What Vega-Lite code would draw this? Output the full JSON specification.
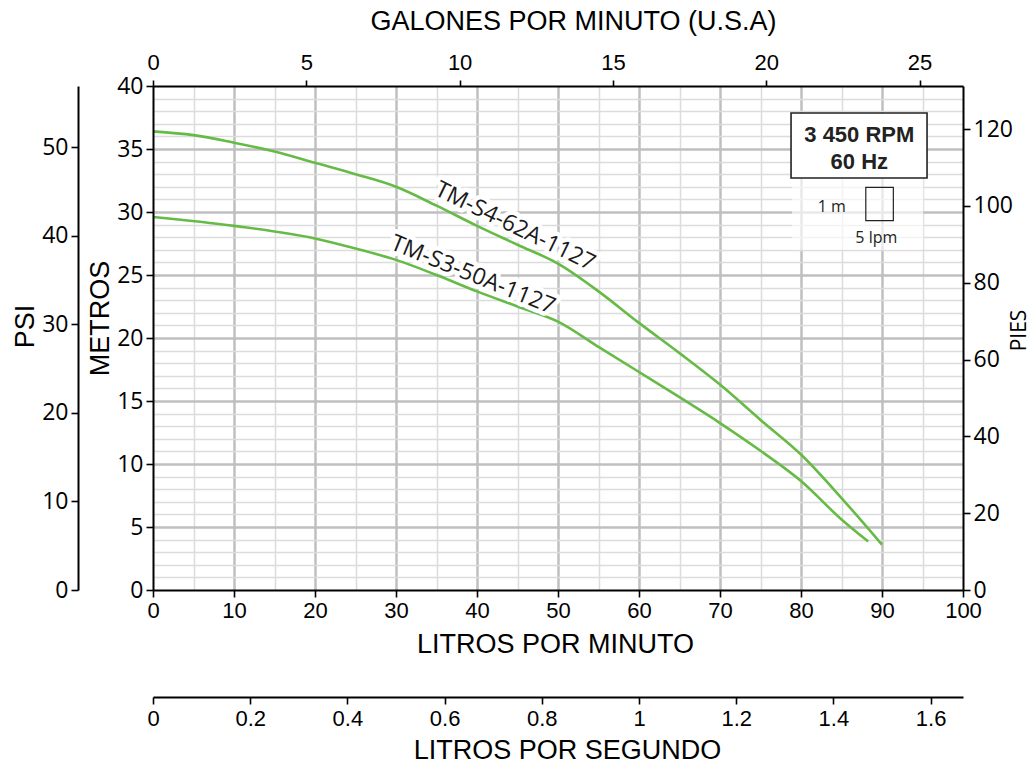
{
  "$schema": "https://vega.github.io/schema/vega-lite/v6.json",
  "width": 810,
  "height": 504,
  "autosize": "none",
  "padding": {"left": 153, "top": 86, "right": 72, "bottom": 179},
  "background": "white",
  "config": {
    "view": {"stroke": null},
    "axis": {"labelOverlap": false, "labelFlush": false, "labelBound": false, "labelColor": "black", "titleColor": "black", "titleFontWeight": "normal"}
  },
  "datasets": {
    "curves": [
      {"model": "TM-S4-62A-1127", "lpm": 0, "m": 36.4},
      {"model": "TM-S4-62A-1127", "lpm": 5, "m": 36.1},
      {"model": "TM-S4-62A-1127", "lpm": 10, "m": 35.5},
      {"model": "TM-S4-62A-1127", "lpm": 15, "m": 34.8},
      {"model": "TM-S4-62A-1127", "lpm": 20, "m": 33.9},
      {"model": "TM-S4-62A-1127", "lpm": 25, "m": 33.0},
      {"model": "TM-S4-62A-1127", "lpm": 30, "m": 32.0},
      {"model": "TM-S4-62A-1127", "lpm": 35, "m": 30.5},
      {"model": "TM-S4-62A-1127", "lpm": 40, "m": 28.9},
      {"model": "TM-S4-62A-1127", "lpm": 45, "m": 27.4},
      {"model": "TM-S4-62A-1127", "lpm": 50, "m": 25.9},
      {"model": "TM-S4-62A-1127", "lpm": 55, "m": 23.7},
      {"model": "TM-S4-62A-1127", "lpm": 60, "m": 21.2},
      {"model": "TM-S4-62A-1127", "lpm": 65, "m": 18.8},
      {"model": "TM-S4-62A-1127", "lpm": 70, "m": 16.3},
      {"model": "TM-S4-62A-1127", "lpm": 75, "m": 13.5},
      {"model": "TM-S4-62A-1127", "lpm": 80, "m": 10.75},
      {"model": "TM-S4-62A-1127", "lpm": 85, "m": 7.3},
      {"model": "TM-S4-62A-1127", "lpm": 90, "m": 3.6},
      {"model": "TM-S3-50A-1127", "lpm": 0, "m": 29.6},
      {"model": "TM-S3-50A-1127", "lpm": 10, "m": 28.9},
      {"model": "TM-S3-50A-1127", "lpm": 20, "m": 27.9},
      {"model": "TM-S3-50A-1127", "lpm": 25, "m": 27.1},
      {"model": "TM-S3-50A-1127", "lpm": 30, "m": 26.2},
      {"model": "TM-S3-50A-1127", "lpm": 35, "m": 25.0},
      {"model": "TM-S3-50A-1127", "lpm": 40, "m": 23.7},
      {"model": "TM-S3-50A-1127", "lpm": 45, "m": 22.5},
      {"model": "TM-S3-50A-1127", "lpm": 50, "m": 21.3},
      {"model": "TM-S3-50A-1127", "lpm": 55, "m": 19.3},
      {"model": "TM-S3-50A-1127", "lpm": 60, "m": 17.3},
      {"model": "TM-S3-50A-1127", "lpm": 65, "m": 15.3},
      {"model": "TM-S3-50A-1127", "lpm": 70, "m": 13.25},
      {"model": "TM-S3-50A-1127", "lpm": 75, "m": 11.05},
      {"model": "TM-S3-50A-1127", "lpm": 80, "m": 8.65},
      {"model": "TM-S3-50A-1127", "lpm": 85, "m": 5.6},
      {"model": "TM-S3-50A-1127", "lpm": 88.3, "m": 3.85}
    ],
    "boxes": [
      {"part": "veil", "lpm": 78.9, "lpm2": 95.1, "m": 32.7, "m2": 27.0},
      {"part": "frame", "lpm": 78.77, "lpm2": 95.56, "m": 37.86, "m2": 32.7},
      {"part": "key", "lpm": 88.0, "lpm2": 91.4, "m": 31.96, "m2": 29.31}
    ],
    "notes": [
      {"group": "rpm", "label": "3 450 RPM", "lpm": 87.2, "m": 36.1},
      {"group": "rpm", "label": "60 Hz", "lpm": 87.2, "m": 34.0},
      {"group": "key", "label": "1 m", "lpm": 83.8, "m": 30.4},
      {"group": "key", "label": "5 lpm", "lpm": 89.3, "m": 27.9},
      {"group": "s4", "label": "TM-S4-62A-1127", "lpm": 44.7, "m": 28.85},
      {"group": "s3", "label": "TM-S3-50A-1127", "lpm": 39.5, "m": 25.0}
    ]
  },
  "resolve": {"axis": {"x": "independent", "y": "independent"}},
  "layer": [
    {
      "description": "minor grid: every 5 lpm and every 1 m",
      "data": {"name": "curves"},
      "mark": {"type": "point", "opacity": 0},
      "encoding": {
        "x": {"field": "lpm", "type": "quantitative", "scale": {"domain": [0, 100], "nice": false, "zero": false},
          "axis": {"orient": "bottom", "values": [5, 15, 25, 35, 45, 55, 65, 75, 85, 95], "grid": true, "gridColor": "#dcdcdc", "gridWidth": 1.5, "domain": false, "ticks": false, "labels": false, "title": null, "zindex": 0}},
        "y": {"field": "m", "type": "quantitative", "scale": {"domain": [0, 40], "nice": false, "zero": true},
          "axis": {"orient": "left", "values": [1, 2, 3, 4, 6, 7, 8, 9, 11, 12, 13, 14, 16, 17, 18, 19, 21, 22, 23, 24, 26, 27, 28, 29, 31, 32, 33, 34, 36, 37, 38, 39], "grid": true, "gridColor": "#dcdcdc", "gridWidth": 1.5, "domain": false, "ticks": false, "labels": false, "title": null, "zindex": 0}}
      }
    },
    {
      "description": "major grid: every 10 lpm and every 5 m",
      "data": {"name": "curves"},
      "mark": {"type": "point", "opacity": 0},
      "encoding": {
        "x": {"field": "lpm", "type": "quantitative", "scale": {"domain": [0, 100], "nice": false, "zero": false},
          "axis": {"orient": "bottom", "values": [10, 20, 30, 40, 50, 60, 70, 80, 90], "grid": true, "gridColor": "#bfbfbf", "gridWidth": 2.5, "domain": false, "ticks": false, "labels": false, "title": null, "zindex": 0}},
        "y": {"field": "m", "type": "quantitative", "scale": {"domain": [0, 40], "nice": false, "zero": true},
          "axis": {"orient": "left", "values": [5, 10, 15, 20, 25, 30, 35], "grid": true, "gridColor": "#bfbfbf", "gridWidth": 2.5, "domain": false, "ticks": false, "labels": false, "title": null, "zindex": 0}}
      }
    },
    {
      "description": "pump curves with the litres-per-minute and metres axes",
      "data": {"name": "curves"},
      "mark": {"type": "line", "color": "#66bb46", "strokeWidth": 2.6, "interpolate": "monotone"},
      "encoding": {
        "detail": {"field": "model"},
        "x": {"field": "lpm", "type": "quantitative", "scale": {"domain": [0, 100], "nice": false, "zero": false},
          "axis": {"orient": "bottom", "values": [0, 10, 20, 30, 40, 50, 60, 70, 80, 90, 100], "grid": false, "domainColor": "black", "domainWidth": 2, "tickColor": "black", "tickWidth": 1.6, "tickSize": 7, "labelFont": "Liberation Sans", "labelFontSize": 22, "labelPadding": 3, "title": "LITROS POR MINUTO", "titleFont": "Liberation Sans", "titleFontSize": 27, "titlePadding": 10, "titleX": 402, "zindex": 1}},
        "y": {"field": "m", "type": "quantitative", "scale": {"domain": [0, 40], "nice": false, "zero": true},
          "axis": {"orient": "left", "values": [0, 5, 10, 15, 20, 25, 30, 35, 40], "grid": false, "domainColor": "black", "domainWidth": 2, "tickColor": "black", "tickWidth": 1.6, "tickSize": 7, "labelFont": "Open Sans", "labelFontSize": 23, "labelPadding": 3, "title": "METROS", "titleFont": "Liberation Sans", "titleFontSize": 27, "titlePadding": 2, "titleY": 232, "zindex": 1}}
      }
    },
    {
      "description": "US gallons per minute on top, feet on the right",
      "data": {"name": "curves"},
      "mark": {"type": "point", "opacity": 0},
      "encoding": {
        "x": {"field": "lpm", "type": "quantitative", "scale": {"domain": [0, 100], "nice": false, "zero": false},
          "axis": {"orient": "top", "values": [0, 18.92705, 37.8541, 56.78115, 75.7082, 94.63525], "labelExpr": "'' + round(datum.value / 3.78541)", "grid": false, "domainColor": "black", "domainWidth": 2, "tickColor": "black", "tickWidth": 1.6, "tickSize": 6, "labelFont": "Liberation Sans", "labelFontSize": 22, "labelPadding": 6, "title": "GALONES POR MINUTO (U.S.A)", "titleFont": "Liberation Sans", "titleFontSize": 27, "titlePadding": 16, "titleX": 420, "zindex": 1}},
        "y": {"field": "m", "type": "quantitative", "scale": {"domain": [0, 40], "nice": false, "zero": true},
          "axis": {"orient": "right", "values": [0, 6.096, 12.192, 18.288, 24.384, 30.48, 36.576], "labelExpr": "'' + round(datum.value * 3.28084)", "grid": false, "domainColor": "black", "domainWidth": 2, "tickColor": "black", "tickWidth": 1.6, "tickSize": 7, "labelFont": "Open Sans", "labelFontSize": 23, "labelPadding": 3, "title": "PIES", "titleFont": "Open Sans", "titleFontSize": 21, "titleAngle": 270, "titleBaseline": "top", "titlePadding": -4, "titleY": 244, "zindex": 1}}
      }
    },
    {
      "description": "litres per second below, psi on the far left",
      "data": {"name": "curves"},
      "mark": {"type": "point", "opacity": 0},
      "encoding": {
        "x": {"field": "lpm", "type": "quantitative", "scale": {"domain": [0, 100], "nice": false, "zero": false},
          "axis": {"orient": "bottom", "offset": 107, "values": [0, 12, 24, 36, 48, 60, 72, 84, 96], "labelExpr": "format(datum.value / 60, '.1~f')", "grid": false, "domainColor": "black", "domainWidth": 2, "tickColor": "black", "tickWidth": 1.6, "tickSize": 7, "labelFont": "Liberation Sans", "labelFontSize": 22, "labelPadding": 4, "title": "LITROS POR SEGUNDO", "titleFont": "Liberation Sans", "titleFontSize": 27, "titlePadding": 8, "titleX": 414, "zindex": 1}},
        "y": {"field": "m", "type": "quantitative", "scale": {"domain": [0, 40], "nice": false, "zero": true},
          "axis": {"orient": "left", "offset": 75, "values": [0, 7.0307, 14.0614, 21.0921, 28.1228, 35.1535], "labelExpr": "'' + round(datum.value / 0.70307)", "grid": false, "domainColor": "black", "domainWidth": 2, "tickColor": "black", "tickWidth": 1.6, "tickSize": 7, "labelFont": "Open Sans", "labelFontSize": 23, "labelPadding": 3, "title": "PSI", "titleFont": "Liberation Sans", "titleFontSize": 27, "titlePadding": 2, "titleY": 240, "zindex": 1}}
      }
    },
    {
      "data": {"name": "boxes"},
      "transform": [{"filter": "datum.part === 'veil'"}],
      "mark": {"type": "rect", "fill": "white", "fillOpacity": 0.65},
      "encoding": {
        "x": {"field": "lpm", "type": "quantitative", "scale": {"domain": [0, 100], "nice": false, "zero": false}, "axis": null},
        "x2": {"field": "lpm2"},
        "y": {"field": "m", "type": "quantitative", "scale": {"domain": [0, 40], "nice": false, "zero": true}, "axis": null},
        "y2": {"field": "m2"}
      }
    },
    {
      "data": {"name": "boxes"},
      "transform": [{"filter": "datum.part === 'frame'"}],
      "mark": {"type": "rect", "fill": "white", "stroke": "#222222", "strokeWidth": 1.6},
      "encoding": {
        "x": {"field": "lpm", "type": "quantitative", "scale": {"domain": [0, 100], "nice": false, "zero": false}, "axis": null},
        "x2": {"field": "lpm2"},
        "y": {"field": "m", "type": "quantitative", "scale": {"domain": [0, 40], "nice": false, "zero": true}, "axis": null},
        "y2": {"field": "m2"}
      }
    },
    {
      "data": {"name": "boxes"},
      "transform": [{"filter": "datum.part === 'key'"}],
      "mark": {"type": "rect", "fill": "white", "fillOpacity": 0, "stroke": "#222222", "strokeWidth": 1.2},
      "encoding": {
        "x": {"field": "lpm", "type": "quantitative", "scale": {"domain": [0, 100], "nice": false, "zero": false}, "axis": null},
        "x2": {"field": "lpm2"},
        "y": {"field": "m", "type": "quantitative", "scale": {"domain": [0, 40], "nice": false, "zero": true}, "axis": null},
        "y2": {"field": "m2"}
      }
    },
    {
      "data": {"name": "notes"},
      "transform": [{"filter": "datum.group === 'rpm'"}],
      "mark": {"type": "text", "font": "Liberation Sans", "fontSize": 22, "fontWeight": "bold", "color": "#222222", "align": "center", "baseline": "middle"},
      "encoding": {
        "x": {"field": "lpm", "type": "quantitative", "scale": {"domain": [0, 100], "nice": false, "zero": false}, "axis": null},
        "y": {"field": "m", "type": "quantitative", "scale": {"domain": [0, 40], "nice": false, "zero": true}, "axis": null},
        "text": {"field": "label"}
      }
    },
    {
      "data": {"name": "notes"},
      "transform": [{"filter": "datum.group === 'key'"}],
      "mark": {"type": "text", "font": "Open Sans", "fontSize": 16, "color": "#222222", "align": "center", "baseline": "middle"},
      "encoding": {
        "x": {"field": "lpm", "type": "quantitative", "scale": {"domain": [0, 100], "nice": false, "zero": false}, "axis": null},
        "y": {"field": "m", "type": "quantitative", "scale": {"domain": [0, 40], "nice": false, "zero": true}, "axis": null},
        "text": {"field": "label"}
      }
    },
    {
      "description": "white backing behind the upper curve label",
      "data": {"name": "notes"},
      "transform": [{"filter": "datum.group === 's4'"}],
      "mark": {"type": "text", "font": "Open Sans", "fontSize": 23, "angle": 26, "stroke": "white", "strokeWidth": 9, "strokeJoin": "round", "fill": "white", "align": "center", "baseline": "middle"},
      "encoding": {
        "x": {"field": "lpm", "type": "quantitative", "scale": {"domain": [0, 100], "nice": false, "zero": false}, "axis": null},
        "y": {"field": "m", "type": "quantitative", "scale": {"domain": [0, 40], "nice": false, "zero": true}, "axis": null},
        "text": {"field": "label"}
      }
    },
    {
      "data": {"name": "notes"},
      "transform": [{"filter": "datum.group === 's4'"}],
      "mark": {"type": "text", "font": "Open Sans", "fontSize": 23, "angle": 26, "color": "#1a1a1a", "align": "center", "baseline": "middle"},
      "encoding": {
        "x": {"field": "lpm", "type": "quantitative", "scale": {"domain": [0, 100], "nice": false, "zero": false}, "axis": null},
        "y": {"field": "m", "type": "quantitative", "scale": {"domain": [0, 40], "nice": false, "zero": true}, "axis": null},
        "text": {"field": "label"}
      }
    },
    {
      "description": "white backing behind the lower curve label",
      "data": {"name": "notes"},
      "transform": [{"filter": "datum.group === 's3'"}],
      "mark": {"type": "text", "font": "Open Sans", "fontSize": 23, "angle": 22, "stroke": "white", "strokeWidth": 9, "strokeJoin": "round", "fill": "white", "align": "center", "baseline": "middle"},
      "encoding": {
        "x": {"field": "lpm", "type": "quantitative", "scale": {"domain": [0, 100], "nice": false, "zero": false}, "axis": null},
        "y": {"field": "m", "type": "quantitative", "scale": {"domain": [0, 40], "nice": false, "zero": true}, "axis": null},
        "text": {"field": "label"}
      }
    },
    {
      "data": {"name": "notes"},
      "transform": [{"filter": "datum.group === 's3'"}],
      "mark": {"type": "text", "font": "Open Sans", "fontSize": 23, "angle": 22, "color": "#1a1a1a", "align": "center", "baseline": "middle"},
      "encoding": {
        "x": {"field": "lpm", "type": "quantitative", "scale": {"domain": [0, 100], "nice": false, "zero": false}, "axis": null},
        "y": {"field": "m", "type": "quantitative", "scale": {"domain": [0, 40], "nice": false, "zero": true}, "axis": null},
        "text": {"field": "label"}
      }
    }
  ]
}
